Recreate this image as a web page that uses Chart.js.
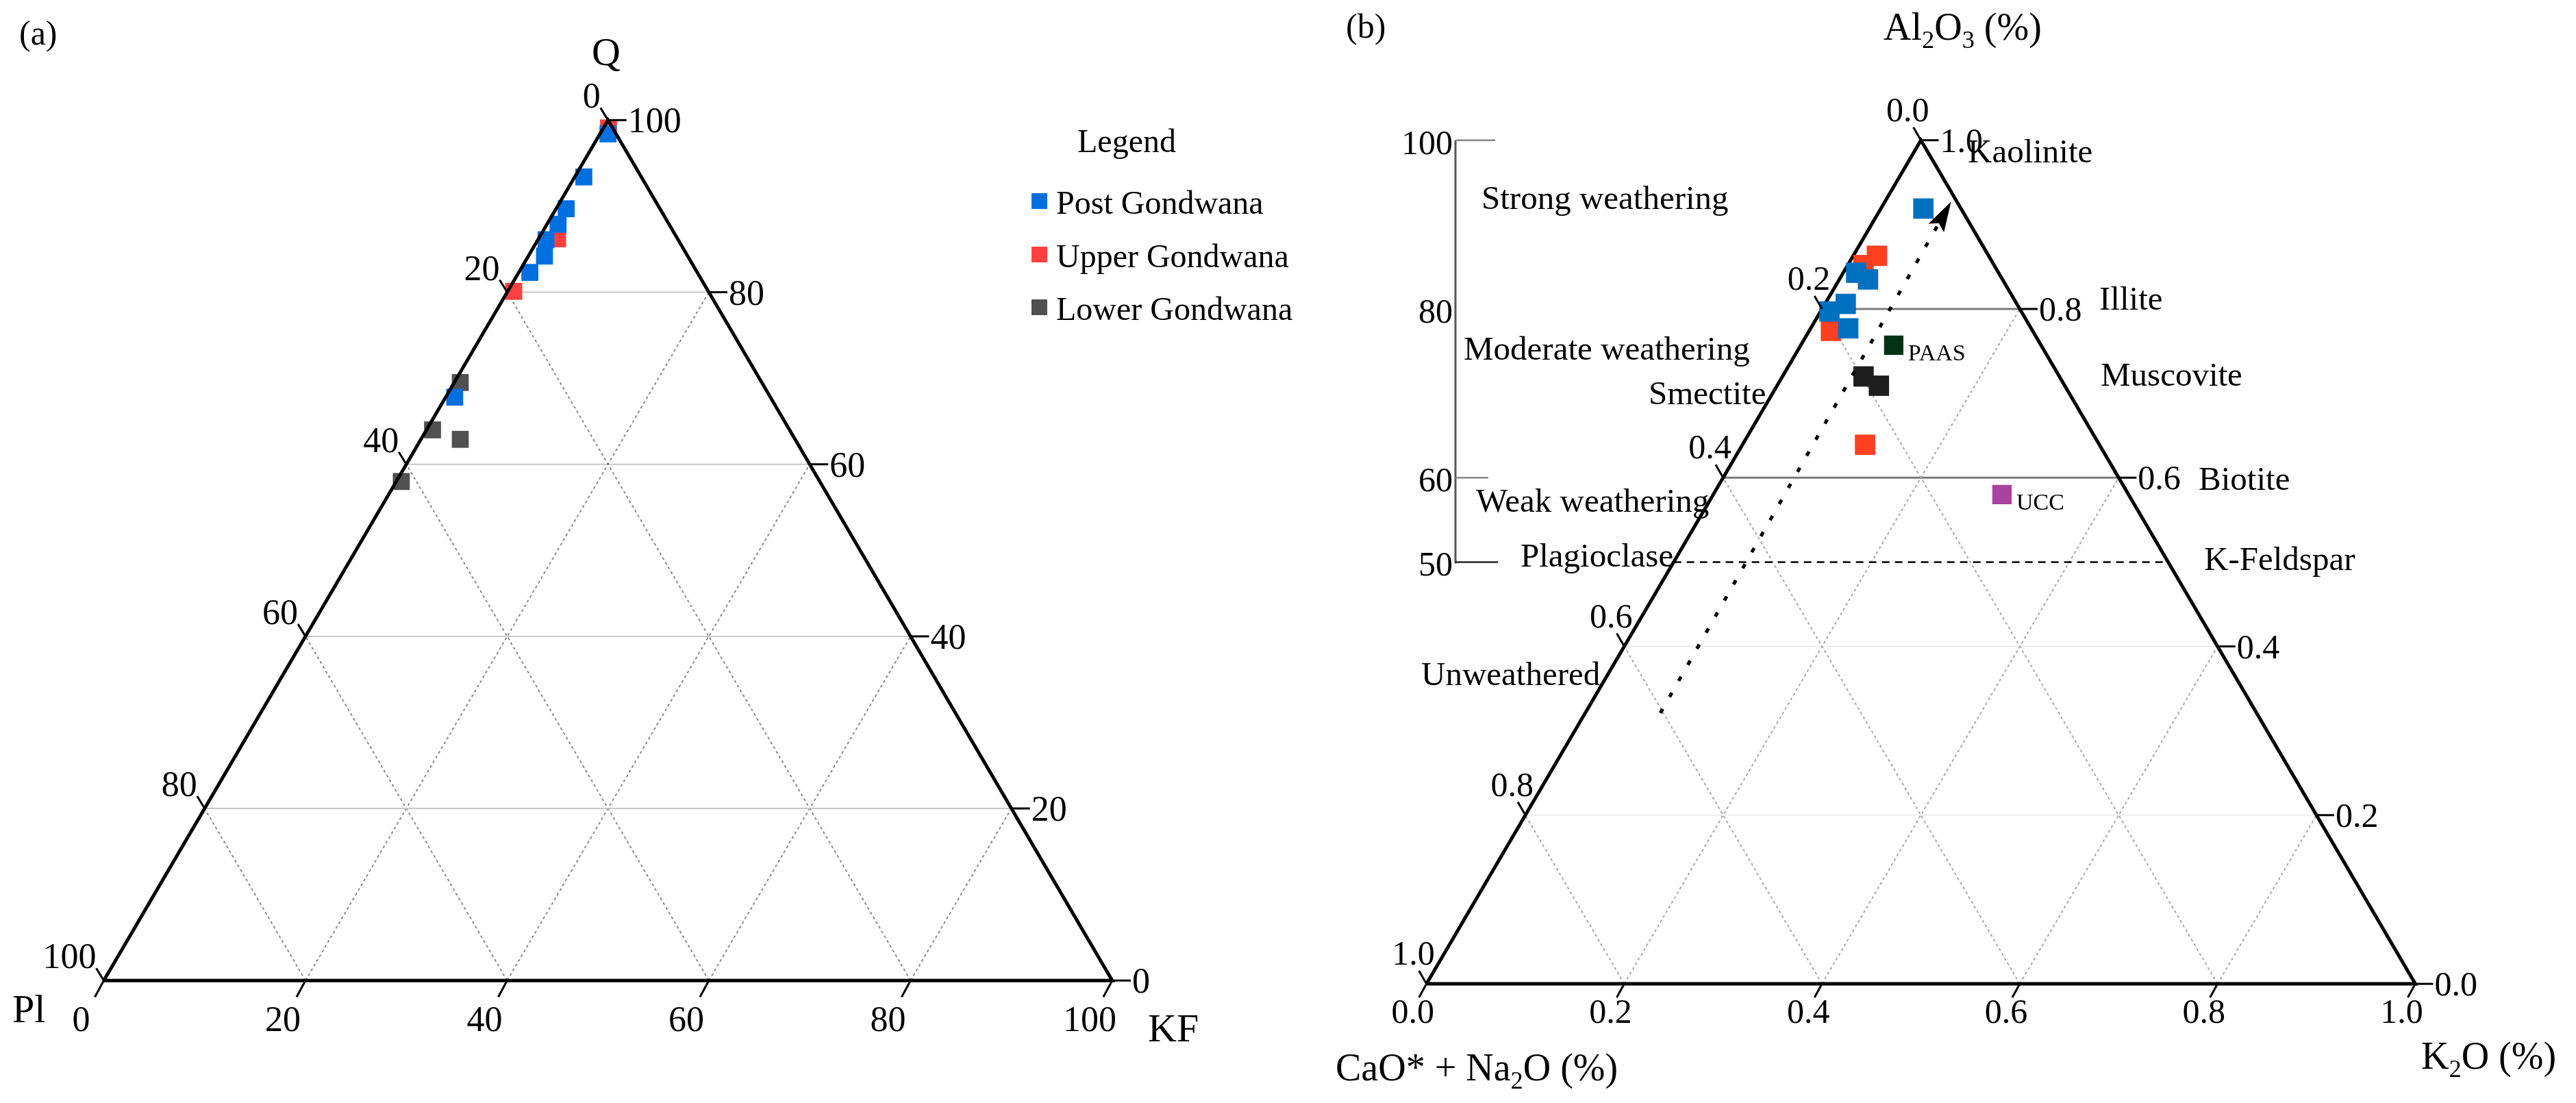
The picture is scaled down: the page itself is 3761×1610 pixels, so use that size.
<!DOCTYPE html>
<html>
<head>
<meta charset="utf-8">
<script src="https://cdn.jsdelivr.net/npm/chart.js@4.4.1/dist/chart.umd.min.js"></script>
<style>
  html, body { margin: 0; padding: 0; background: #fff; }
  canvas { display: block; }
</style>
</head>
<body>
<canvas id="tern" width="3761" height="1610"></canvas>
<script>
// ternary -> cartesian (equilateral, unit base)
const S3 = Math.sqrt(3) / 2;
const qfl = (q, kf) => ({ x: kf / 100 + q / 200, y: q / 100 * S3 });
const ack = (al, k) => ({ x: k + al / 2, y: al * S3 });

const pctTicks = [0, 20, 40, 60, 80, 100];
const fracTicks = [0, 0.2, 0.4, 0.6, 0.8, 1.0];
const ciaTicks = [100, 80, 60, 50];
const seriesNames = ['Post Gondwana', 'Upper Gondwana', 'Lower Gondwana'];

// (a) Q - KF - Pl, percent (Pl = 100 - Q - KF)
const postQ = [98.4, 93.4, 89.7, 87.9, 86.1, 84.2, 82.3, 67.8];
const postKF = [0.8, 0.9, 1.0, 1.1, 0.8, 1.6, 1.1, 0.9];
const upperQ = [99.1, 86.2, 80.1];
const upperKF = [0.5, 1.9, 0.6];
const lowerQ = [69.5, 64.0, 62.9, 58.0];
const lowerKF = [0.6, 0.6, 3.9, 0.5];

// (b) Al2O3 - (CaO*+Na2O) - K2O, fraction
const postAl = [0.919, 0.843, 0.835, 0.806, 0.797, 0.777];
const postK = [0.043, 0.013, 0.029, 0.021, 0.009, 0.038];
const upperAl = [0.863, 0.852, 0.774, 0.639];
const upperK = [0.024, 0.016, 0.022, 0.124];
const lowerAl = [0.720, 0.709];
const lowerK = [0.082, 0.103];
const refNames = ['PAAS', 'UCC'];
const refAl = [0.757, 0.580];
const refK = [0.094, 0.292];
const trendAl = [0.321, 0.927];
const trendK = [0.076, 0.067];

const colA = ['#0070e0', '#ff4040', '#505050'];
const colB = ['#0070c0', '#ff4020', '#1e1e1e'];
const refCol = ['#023414', '#a8439f'];
const FONT = '"Liberation Serif", "Times New Roman", serif';

function pts(conv, a, b) { return a.map((v, i) => conv(v, b[i])); }
function axes(p) { return p === 'a' ? { xAxisID: 'xa', yAxisID: 'ya' } : { xAxisID: 'xb', yAxisID: 'yb' }; }
function lineSet(data, p, color, width, dash, order) {
  return Object.assign({
    data, showLine: true, borderColor: color, borderWidth: width, borderDash: dash || [],
    borderCapStyle: 'butt', borderJoinStyle: 'miter',
    pointRadius: 0, pointHoverRadius: 0, fill: false, clip: false, order
  }, axes(p));
}
function markSet(label, data, p, color, r, order) {
  return Object.assign({
    label, data, showLine: false, pointStyle: 'rect', pointRadius: r, pointHoverRadius: r,
    backgroundColor: color, borderColor: color, borderWidth: 0, clip: false, order
  }, axes(p));
}

const datasets = [];
// grid (a)
pctTicks.slice(1, -1).forEach(t => {
  datasets.push(lineSet([qfl(t, 0), qfl(t, 100 - t)], 'a', '#c8c8c8', 2, [], 10));
  datasets.push(lineSet([qfl(0, t), qfl(100 - t, t)], 'a', '#8c8c8c', 2, [4, 4], 10));
  datasets.push(lineSet([qfl(0, 100 - t), qfl(100 - t, 0)], 'a', '#8c8c8c', 2, [4, 4], 10));
});
// grid (b)
fracTicks.slice(1, -1).forEach(t => {
  const strong = t > 0.5;
  datasets.push(lineSet([ack(t, 0), ack(t, 1 - t)], 'b', strong ? '#7a7a7a' : '#ececec', strong ? 3 : 2, [], 10));
  datasets.push(lineSet([ack(0, t), ack(1 - t, t)], 'b', '#a8a8a8', 2, [4, 4], 10));
  datasets.push(lineSet([ack(0, 1 - t), ack(1 - t, 0)], 'b', '#a8a8a8', 2, [4, 4], 10));
});
const half = ciaTicks[3] / 100;
datasets.push(lineSet([ack(half, 0), ack(half, 1 - half)], 'b', '#000', 2.5, [11, 8], 9));

// edges
datasets.push(lineSet([qfl(0, 0), qfl(0, 100), qfl(100, 0), qfl(0, 0)], 'a', '#000', 5, [], 1));
datasets.push(lineSet([ack(0, 0), ack(0, 1), ack(1, 0), ack(0, 0)], 'b', '#000', 5, [], 6));

// samples (a)
datasets.push(markSet(seriesNames[1], pts(qfl, upperQ, upperKF), 'a', colA[1], 17.5, 5));
datasets.push(markSet(seriesNames[2], pts(qfl, lowerQ, lowerKF), 'a', colA[2], 17.5, 4));
datasets.push(markSet(seriesNames[0], pts(qfl, postQ, postKF), 'a', colA[0], 17.5, 3));
// samples (b)
datasets.push(markSet(seriesNames[1], pts(ack, upperAl, upperK), 'b', colB[1], 21, 5));
datasets.push(markSet(seriesNames[2], pts(ack, lowerAl, lowerK), 'b', colB[2], 21, 4));
datasets.push(markSet(seriesNames[0], pts(ack, postAl, postK), 'b', colB[0], 21, 3));
datasets.push(markSet('Reference', pts(ack, refAl, refK), 'b', refCol, 20, 3));
// weathering trend
datasets.push(lineSet(pts(ack, trendAl, trendK), 'b', '#000', 5, [7, 20], 2));

const notes = [
  ['Strong weathering', 2163, 305],
  ['Moderate weathering', 2137, 525],
  ['Smectite', 2407, 590],
  ['Weak weathering', 2155, 747],
  ['Plagioclase', 2220, 827],
  ['Unweathered', 2075, 1000],
  ['Kaolinite', 2873, 237],
  ['Illite', 3065, 452],
  ['Muscovite', 3067, 563],
  ['Biotite', 3210, 715],
  ['K-Feldspar', 3218, 832]
];

function rich(c, segs, x, y, size) {
  let cx = x;
  segs.forEach(([s, sub]) => {
    const fs = sub ? size * 0.65 : size;
    c.font = fs + 'px ' + FONT;
    c.textAlign = 'left';
    c.fillText(s, cx, sub ? y + size * 0.22 : y);
    cx += c.measureText(s).width;
  });
}

const ink = {
  id: 'ink',
  afterDatasetsDraw(chart) {
    const c = chart.ctx;
    const s = chart.scales;
    const pa = p => [s.xa.getPixelForValue(p.x), s.ya.getPixelForValue(p.y)];
    const pb = p => [s.xb.getPixelForValue(p.x), s.yb.getPixelForValue(p.y)];
    const seg = (x1, y1, x2, y2, w, col) => {
      c.beginPath(); c.moveTo(x1, y1); c.lineTo(x2, y2);
      c.lineWidth = w; c.strokeStyle = col || '#000'; c.setLineDash([]); c.stroke();
    };
    const txt = (t, x, y, align, size) => {
      c.font = size + 'px ' + FONT; c.textAlign = align; c.textBaseline = 'alphabetic';
      c.fillStyle = '#000'; c.fillText(t, x, y);
    };
    c.save();

    // (a) ticks
    pctTicks.forEach(t => {
      let [x, y] = pa(qfl(0, t));
      seg(x, y, x - 13, y + 24, 3); txt(String(t), x - 33, y + 74, 'center', 52);
      [x, y] = pa(qfl(t, 100 - t));
      seg(x, y, x + 27, y, 3); txt(String(t), x + 29, y + 18, 'left', 52);
      [x, y] = pa(qfl(100 - t, 0));
      seg(x, y, x - 11, y - 18, 3); txt(String(t), x - 11, y - 18, 'right', 52);
    });
    txt('Q', 885, 95, 'center', 58);
    txt('Pl', 18, 1492, 'left', 58);
    txt('KF', 1676, 1520, 'left', 58);
    txt('(a)', 28, 65, 'left', 50);

    // (a) legend
    txt('Legend', 1573, 222, 'left', 48);
    [0, 1, 2].forEach(i => {
      const y = [312, 390, 467][i];
      c.fillStyle = colA[i];
      c.fillRect(1506, y - 30, 23, 23);
      txt(seriesNames[i], 1542, y, 'left', 48);
    });

    // (b) ticks
    fracTicks.forEach(t => {
      const lab = t.toFixed(1);
      let [x, y] = pb(ack(1 - t, 0));
      seg(x, y, x - 11, y - 19, 3); txt(lab, x + 12, y - 28, 'right', 50);
      [x, y] = pb(ack(t, 1 - t));
      seg(x, y, x + 26, y, 3); txt(lab, x + 28, y + 17, 'left', 50);
      [x, y] = pb(ack(0, t));
      seg(x, y, x - 11, y + 20, 3); txt(lab, x - 20, y + 57, 'center', 50);
    });

    // CIA scale
    const cx = 2125;
    const yc = v => pb(ack(v / 100, 0))[1];
    seg(cx, yc(ciaTicks[0]), cx, yc(ciaTicks[3]) + 2, 3, '#555');
    ciaTicks.forEach(v => txt(String(v), cx - 4, yc(v) + 20, 'right', 50));
    seg(cx, yc(100), cx + 58, yc(100), 2.5, '#888');
    seg(cx, yc(60), cx + 48, yc(60), 2.5, '#888');
    seg(cx, yc(50), cx + 62, yc(50), 2.5, '#222');

    notes.forEach(([t, x, y]) => txt(t, x, y, 'left', 49));

    // reference labels
    refNames.forEach((n, i) => {
      const [x, y] = pb(ack(refAl[i], refK[i]));
      txt(n, x + 21, y + 22, 'left', 34);
    });

    // arrow head
    const [x0, y0] = pb(ack(trendAl[0], trendK[0]));
    const [x1, y1] = pb(ack(trendAl[1], trendK[1]));
    const ang = Math.atan2(y1 - y0, x1 - x0);
    c.save();
    c.translate(x1, y1); c.rotate(ang);
    c.beginPath(); c.moveTo(0, 0); c.lineTo(-44, -13); c.lineTo(-36, 0); c.lineTo(-44, 13); c.closePath();
    c.fillStyle = '#000'; c.fill();
    c.restore();

    // titles (b)
    c.fillStyle = '#000';
    rich(c, [['Al', 0], ['2', 1], ['O', 0], ['3', 1], [' (%)', 0]], 2750, 58, 56);
    rich(c, [['CaO* + Na', 0], ['2', 1], ['O (%)', 0]], 1950, 1577, 56);
    rich(c, [['K', 0], ['2', 1], ['O (%)', 0]], 3535, 1560, 56);
    txt('(b)', 1965, 55, 'left', 50);

    c.restore();
  }
};

const hidden = (min, max) => ({ type: 'linear', display: false, min, max });
new Chart(document.getElementById('tern'), {
  type: 'scatter',
  data: { datasets },
  options: {
    responsive: false,
    animation: false,
    devicePixelRatio: 1,
    layout: { padding: 0 },
    events: [],
    plugins: { legend: { display: false }, tooltip: { enabled: false } },
    scales: {
      x: hidden(0, 1), y: hidden(0, 1),
      xa: hidden(-132 / 1489, (3761 - 132) / 1489),
      ya: hidden((1448 - 1610) / 1489, 1448 / 1489),
      xb: hidden(-2085 / 1460, (3761 - 2085) / 1460),
      yb: hidden((1453 - 1610) / 1460, 1453 / 1460)
    }
  },
  plugins: [ink]
});
</script>
</body>
</html>
